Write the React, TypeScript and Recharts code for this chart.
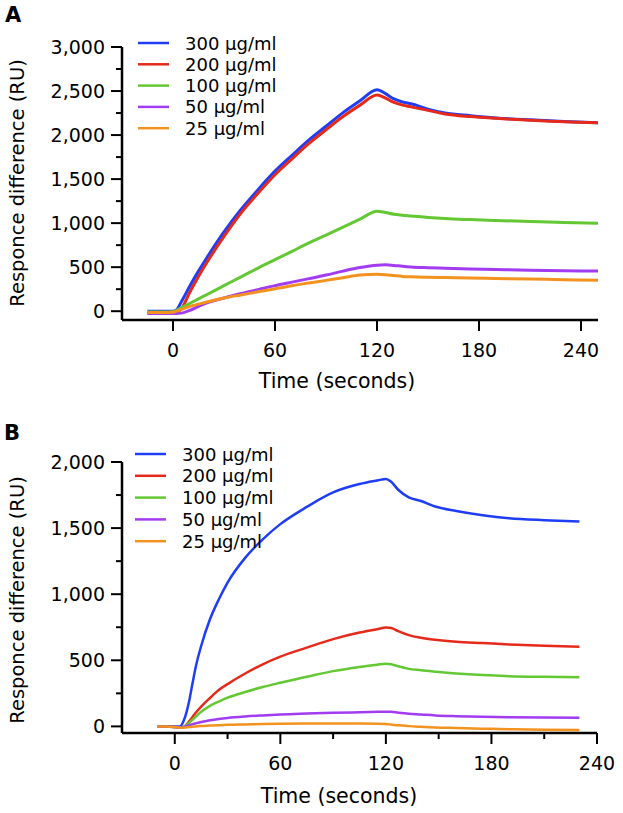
import { LineChart, Line, XAxis, YAxis } from 'recharts';

const FONT = '"DejaVu Sans", sans-serif';

// concentrations, shared by both panels
const seriesNames = ['300 µg/ml', '200 µg/ml', '100 µg/ml', '50 µg/ml', '25 µg/ml'];
const seriesKeys = ['c300', 'c200', 'c100', 'c50', 'c25'];
const seriesColors = ['#1f3df5', '#e52a1c', '#63c834', '#a23cf0', '#f3921f'];

// panel A (seconds / RU)
const timeA = [-15, -5, 0, 2, 5, 10, 15, 20, 30, 40, 50, 60, 70, 80, 90, 100, 110, 120, 125, 130, 135, 140, 150, 160, 175, 190, 210, 230, 250];
const a300 = [0, 0, 0, 15, 110, 290, 455, 610, 900, 1155, 1380, 1590, 1770, 1945, 2100, 2255, 2390, 2515, 2470, 2410, 2375, 2355, 2295, 2250, 2220, 2195, 2173, 2155, 2140];
const a200 = [-20, -20, -20, -15, 30, 220, 395, 555, 850, 1115, 1340, 1550, 1730, 1905, 2060, 2210, 2340, 2455, 2420, 2370, 2340, 2320, 2280, 2240, 2210, 2190, 2168, 2150, 2140];
const a100 = [-10, -10, -5, 10, 40, 90, 140, 190, 290, 390, 490, 585, 680, 775, 865, 955, 1045, 1136, 1120, 1100, 1090, 1082, 1065, 1052, 1040, 1030, 1018, 1007, 998];
const a50 = [-25, -25, -25, -25, -22, 10, 55, 95, 150, 200, 245, 290, 330, 370, 410, 455, 495, 523, 528, 520, 510, 502, 494, 488, 480, 473, 465, 460, 455];
const a25 = [-15, -15, -12, 0, 20, 55, 80, 105, 150, 185, 220, 255, 290, 320, 350, 380, 410, 420, 415, 405, 395, 390, 385, 382, 378, 372, 365, 358, 352];

// panel B
const timeB = [-10, -5, 0, 3, 5, 8, 10, 12, 15, 20, 25, 30, 40, 50, 60, 75, 90, 105, 115, 120, 123, 127, 133, 140, 148, 160, 175, 190, 210, 230];
const b300 = [0, 0, 0, 0, 40, 180, 320, 455, 608, 810, 960, 1088, 1275, 1415, 1530, 1660, 1770, 1833, 1860, 1872, 1850, 1790, 1733, 1705, 1663, 1630, 1598, 1575, 1560, 1550];
const b200 = [0, 0, -5, -10, -5, 35, 70, 105, 150, 215, 275, 320, 400, 470, 528, 596, 660, 710, 735, 748, 745, 720, 690, 670, 655, 640, 630, 620, 610, 602];
const b100 = [0, 0, -5, -8, -3, 25, 50, 75, 110, 155, 188, 217, 260, 298, 330, 375, 418, 450, 467, 474, 470, 455, 435, 425, 413, 400, 388, 380, 375, 372];
const b50 = [0, 0, -5, -8, -5, 8, 16, 23, 33, 46, 56, 64, 75, 83, 90, 97, 103, 107, 110, 111, 110, 104, 96, 90, 83, 77, 72, 69, 67, 65];
const b25 = [0, 0, -5, -10, -10, -5, -2, 0, 3, 6, 9, 12, 15, 18, 20, 21, 21, 21, 20, 18, 14, 8, 2, -3, -8, -12, -17, -21, -25, -28];

const xTicksA = [0, 60, 120, 180, 240];
const xTicksB = [0, 30, 60, 90, 120, 150, 180, 210, 240];
const yTicksA = [0, 250, 500, 750, 1000, 1250, 1500, 1750, 2000, 2250, 2500, 2750, 3000];
const yTicksB = [0, 250, 500, 750, 1000, 1250, 1500, 1750, 2000];

const buildRows = (time: number[], cols: number[][]) =>
  time.map((t, i) => {
    const row: Record<string, number> = { t };
    seriesKeys.forEach((k, j) => (row[k] = cols[j][i]));
    return row;
  });

const rowsA = buildRows(timeA, [a300, a200, a100, a50, a25]);
const rowsB = buildRows(timeB, [b300, b200, b100, b50, b25]);

function YTick(props: any) {
  const { x, y, payload } = props;
  const major = payload.value % 500 === 0;
  return (
    <g>
      <line x1={x - (major ? 11 : 6)} x2={x} y1={y} y2={y} stroke="#000" strokeWidth={2} />
      {major && (
        <text x={x - 17} y={y + 7} textAnchor="end" fontFamily={FONT} fontSize={19} fill="#000">
          {payload.value.toLocaleString('en-US')}
        </text>
      )}
    </g>
  );
}

function XTick(props: any) {
  const { x, y, payload } = props;
  const major = payload.value % 60 === 0;
  return (
    <g>
      <line x1={x} x2={x} y1={y} y2={y + (major ? 11 : 6)} stroke="#000" strokeWidth={2} />
      {major && (
        <text x={x} y={y + 37} textAnchor="middle" fontFamily={FONT} fontSize={19} fill="#000">
          {payload.value}
        </text>
      )}
    </g>
  );
}

function Panel({ rows, xDomain, xTicks, yDomain, yTicks, height, margin, width }: any) {
  return (
    <LineChart width={623} height={height} data={rows} margin={margin}>
      <XAxis
        dataKey="t"
        type="number"
        domain={xDomain}
        ticks={xTicks}
        interval={0}
        height={1}
        tickSize={0}
        tickMargin={0}
        tickLine={false}
        tick={<XTick />}
        axisLine={{ stroke: '#000', strokeWidth: 2.5 }}
        allowDataOverflow
      />
      <YAxis
        type="number"
        domain={yDomain}
        ticks={yTicks}
        interval={0}
        width={1}
        tickSize={0}
        tickMargin={0}
        tickLine={false}
        tick={<YTick />}
        axisLine={{ stroke: '#000', strokeWidth: 2.5 }}
        allowDataOverflow
      />
      {seriesKeys.map((k, i) => (
        <Line
          key={k}
          dataKey={k}
          type="monotone"
          stroke={seriesColors[i]}
          strokeWidth={width}
          dot={false}
          activeDot={false}
          isAnimationActive={false}
        />
      ))}
    </LineChart>
  );
}

function Legend({ x, y, gap }: { x: number; y: number; gap: number }) {
  return (
    <g>
      {seriesNames.map((n, i) => (
        <g key={n}>
          <line x1={x} x2={x + 31} y1={y + i * gap} y2={y + i * gap} stroke={seriesColors[i]} strokeWidth={2.5} />
          <text x={x + 47} y={y + i * gap + 6.5} fontFamily={FONT} fontSize={18} fill="#000">
            {n}
          </text>
        </g>
      ))}
    </g>
  );
}

export default function App() {
  const ylabel = 'Responce difference (RU)';
  return (
    <div style={{ position: 'absolute', left: 0, top: 0, width: 623, height: 813, background: '#fff' }}>
      <div style={{ position: 'absolute', left: 0, top: 0 }}>
        <Panel
          rows={rowsA}
          xDomain={[-30, 250]}
          xTicks={xTicksA}
          yDomain={[-100, 3000]}
          yTicks={yTicksA}
          height={400}
          margin={{ top: 47, right: 25, bottom: 79, left: 121 }}
          width={3}
        />
      </div>
      <div style={{ position: 'absolute', left: 0, top: 400 }}>
        <Panel
          rows={rowsB}
          xDomain={[-30, 240]}
          xTicks={xTicksB}
          yDomain={[-50, 2000]}
          yTicks={yTicksB}
          height={413}
          margin={{ top: 62, right: 26, bottom: 79, left: 121 }}
          width={2.5}
        />
      </div>
      <svg width={623} height={813} style={{ position: 'absolute', left: 0, top: 0, pointerEvents: 'none' }}>
        <text x={5} y={22} fontFamily={FONT} fontWeight="bold" fontSize={21} fill="#000">A</text>
        <text x={4} y={440} fontFamily={FONT} fontWeight="bold" fontSize={21} fill="#000">B</text>
        <text transform="translate(24,183) rotate(-90)" textAnchor="middle" fontFamily={FONT} fontSize={19.5} fill="#000">
          {ylabel}
        </text>
        <text transform="translate(24,600) rotate(-90)" textAnchor="middle" fontFamily={FONT} fontSize={19.5} fill="#000">
          {ylabel}
        </text>
        <text x={337} y={388} textAnchor="middle" fontFamily={FONT} fontSize={20.5} fill="#000">Time (seconds)</text>
        <text x={339} y={803} textAnchor="middle" fontFamily={FONT} fontSize={20.5} fill="#000">Time (seconds)</text>
        <Legend x={138} y={43} gap={21.3} />
        <Legend x={135} y={454} gap={21.8} />
      </svg>
    </div>
  );
}
